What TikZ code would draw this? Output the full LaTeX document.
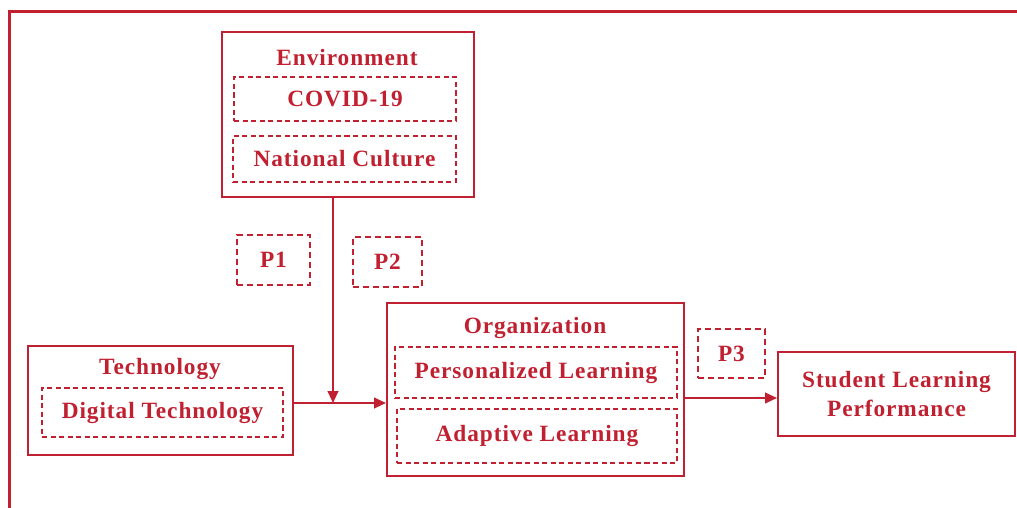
\documentclass[tikz,border=0pt]{standalone}
\usepackage{fontspec}
\setmainfont{Liberation Serif}[LetterSpace=4]
\usetikzlibrary{arrows.meta}
\definecolor{dred}{RGB}{192,32,48}
\newcommand{\labfont}{\fontsize{17.5}{20}\selectfont\bfseries}
\tikzset{
  solidbox/.style={draw=dred, line width=1.5pt, inner sep=0pt},
  dashbox/.style={draw=dred, line width=1.2pt, dash pattern=on 3.8pt off 2.6pt, inner sep=0pt,
    font=\labfont, text=dred, align=center},
  pbox/.style={draw=dred, line width=1.5pt, dash pattern=on 4.5pt off 3pt, inner sep=0pt,
    font=\labfont, text=dred},
  title/.style={font=\labfont, text=dred, inner sep=0pt, align=center},
  arr/.style={draw=dred, line width=1.5pt, -{Triangle[length=9pt,width=8pt]}},
}
\begin{document}
\begin{tikzpicture}[x=0.75pt,y=-0.75pt]
\useasboundingbox (0,0) rectangle (1017,507);
\begin{scope}
\clip (0,0) rectangle (1017,507);
\draw[dred, line width=2.3pt] (1030,11.5) -- (9.5,11.5) -- (9.5,520);
\end{scope}
% Environment
\node[solidbox, minimum width=189pt, minimum height=123.75pt] (env) at (348,114.5) {};
\node[title] (envt) at (347,58) {Environment};
\node[dashbox, minimum width=166.5pt, minimum height=33pt] (covid) at (345,99) {COVID-19};
\node[dashbox, minimum width=167.25pt, minimum height=34.5pt] (nat) at (344.5,159) {National Culture};
% P boxes
\node[pbox, minimum width=54.75pt, minimum height=37.5pt] (p1) at (273.5,260) {P1};
\node[pbox, minimum width=51.75pt, minimum height=37.5pt] (p2) at (387.5,262) {P2};
\node[pbox, minimum width=50.25pt, minimum height=36.75pt] (p3) at (731.5,353.5) {P3};
% Technology
\node[solidbox, minimum width=198.75pt, minimum height=81.75pt] (tech) at (160.5,400.5) {};
\node[title] (techt) at (160,369) {Technology};
\node[dashbox, minimum width=180.75pt, minimum height=36.75pt] (dig) at (162.5,412.5) {Digital Technology};
% Organization
\node[solidbox, minimum width=222.75pt, minimum height=129.75pt] (org) at (535.5,389.5) {};
\node[title] (orgt) at (535,328) {Organization};
\node[dashbox, minimum width=211.5pt, minimum height=38.25pt] (pers) at (536,372.5) {Personalized Learning};
\node[dashbox, minimum width=210pt, minimum height=40.5pt] (adap) at (537,436) {Adaptive Learning};
% Student
\node[solidbox, minimum width=177.75pt, minimum height=63pt, title, inner sep=0pt] (stud) at (896.5,394) {Student Learning\\[2pt]Performance};
% connectors
\coordinate (m) at (333,403);
\coordinate (q) at (700,398);
\draw[arr] (env.south -| m) -- (m);
\draw[arr] (tech.east |- m) -- (org.west |- m);
\draw[arr] (org.east |- q) -- (stud.west |- q);
\end{tikzpicture}
\end{document}
